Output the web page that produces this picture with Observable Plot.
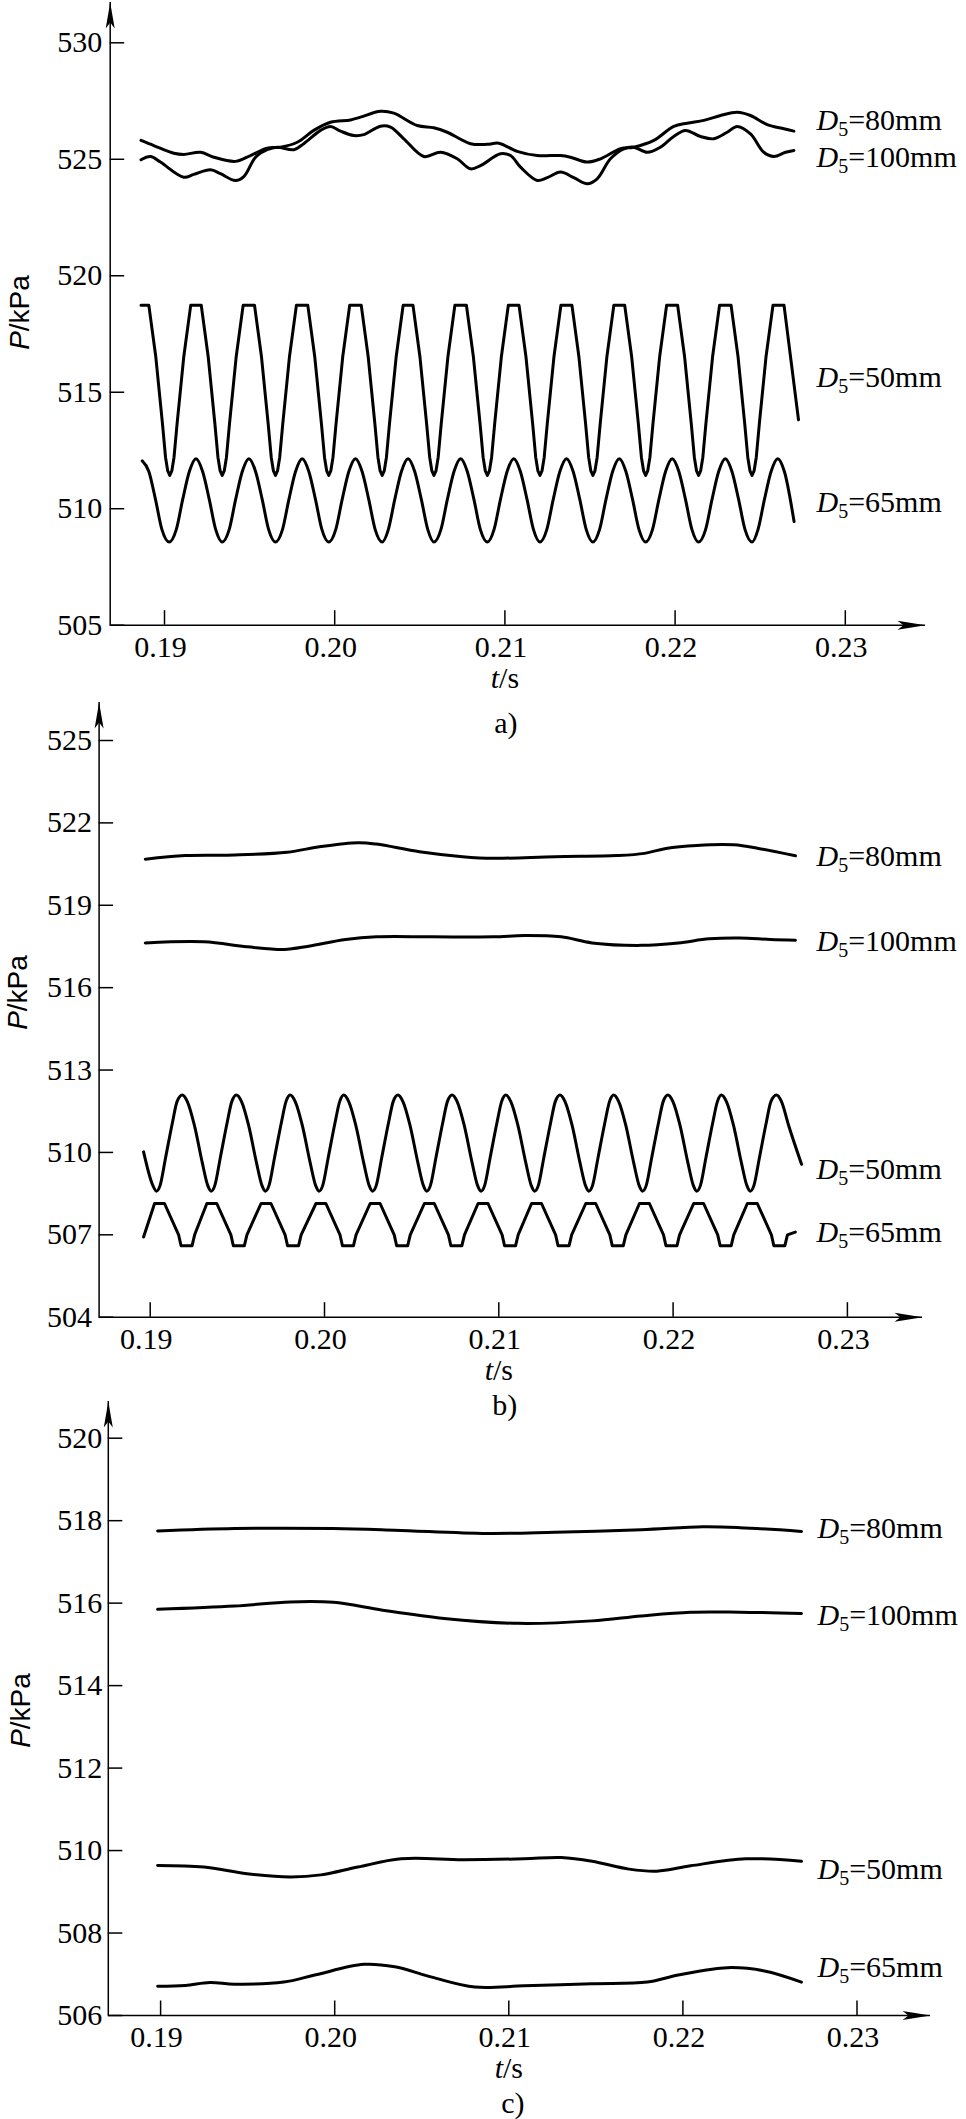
<!DOCTYPE html>
<html>
<head>
<meta charset="utf-8">
<script src="https://cdn.jsdelivr.net/npm/d3@7"></script>
<script src="https://cdn.jsdelivr.net/npm/@observablehq/plot@0.6"></script>
<style>
html, body { margin: 0; padding: 0; background: #fff; }
#root { position: relative; width: 966px; height: 2119px; overflow: hidden; background: #fff; }
.panel { position: absolute; left: 0; }
.panel svg { background: transparent !important; overflow: visible; }
</style>
</head>
<body>
<div id="root"></div>
<script>
// ---------------- DATA ----------------
const xTicks = [0.19, 0.20, 0.21, 0.22, 0.23];
const xTickLabels = ["0.19", "0.20", "0.21", "0.22", "0.23"];
const seriesNames = ["D5=80mm", "D5=100mm", "D5=50mm", "D5=65mm"];

// panel a)
const aTicksP = [505, 510, 515, 520, 525, 530];
const aLabelP = [526.67, 525.08, 515.64, 510.27];
const aD80 = [[0.18862,525.81],[0.18937,525.59],[0.19055,525.26],[0.19113,525.21],[0.19212,525.30],[0.19290,525.09],[0.19417,524.91],[0.19505,525.16],[0.19603,525.48],[0.19682,525.52],[0.19780,525.73],[0.19877,526.24],[0.19975,526.59],[0.20093,526.69],[0.20152,526.81],[0.20269,527.06],[0.20347,526.98],[0.20485,526.45],[0.20582,526.35],[0.20661,526.16],[0.20798,525.67],[0.20896,525.64],[0.20964,525.69],[0.21072,525.34],[0.21190,525.16],[0.21327,525.16],[0.21385,525.09],[0.21484,524.88],[0.21562,525.02],[0.21679,525.45],[0.21757,525.52],[0.21875,525.81],[0.21992,526.41],[0.22071,526.55],[0.22169,526.67],[0.22267,526.88],[0.22365,527.02],[0.22443,526.88],[0.22541,526.49],[0.22639,526.31],[0.22698,526.21]];
const aD100 = [[0.18862,524.98],[0.18918,525.12],[0.18976,524.88],[0.19113,524.23],[0.19172,524.35],[0.19270,524.55],[0.19329,524.38],[0.19417,524.09],[0.19466,524.26],[0.19535,525.09],[0.19603,525.41],[0.19662,525.52],[0.19760,525.41],[0.19818,525.67],[0.19917,526.24],[0.19975,526.41],[0.20034,526.21],[0.20112,526.02],[0.20171,526.06],[0.20269,526.42],[0.20328,526.38],[0.20406,525.88],[0.20524,525.12],[0.20622,525.30],[0.20720,525.02],[0.20798,524.59],[0.20857,524.73],[0.20974,525.24],[0.21033,525.16],[0.21092,524.66],[0.21190,524.09],[0.21249,524.21],[0.21327,524.45],[0.21405,524.21],[0.21484,523.95],[0.21542,524.16],[0.21620,525.02],[0.21699,525.45],[0.21757,525.52],[0.21836,525.30],[0.21914,525.52],[0.21992,525.98],[0.22061,526.24],[0.22149,525.98],[0.22227,525.88],[0.22306,526.16],[0.22365,526.41],[0.22443,526.09],[0.22521,525.30],[0.22580,525.12],[0.22649,525.30],[0.22698,525.38]];
const aD50 = [[0.18862,518.73],
[0.18908,518.73],[0.18949,516.51],[0.18988,513.65],[0.19006,512.21],[0.19019,511.62],[0.19031,511.43],[0.19043,511.62],[0.19056,512.21],[0.19074,513.65],[0.19113,516.51],[0.19154,518.73],
[0.19216,518.73],[0.19257,516.51],[0.19296,513.65],[0.19314,512.21],[0.19327,511.62],[0.19339,511.43],[0.19351,511.62],[0.19364,512.21],[0.19382,513.65],[0.19421,516.51],[0.19462,518.73],
[0.19529,518.73],[0.19570,516.51],[0.19609,513.65],[0.19627,512.21],[0.19640,511.62],[0.19652,511.43],[0.19664,511.62],[0.19677,512.21],[0.19695,513.65],[0.19734,516.51],[0.19775,518.73],
[0.19842,518.73],[0.19883,516.51],[0.19922,513.65],[0.19940,512.21],[0.19953,511.62],[0.19965,511.43],[0.19977,511.62],[0.19990,512.21],[0.20008,513.65],[0.20047,516.51],[0.20088,518.73],
[0.20156,518.73],[0.20197,516.51],[0.20236,513.65],[0.20254,512.21],[0.20267,511.62],[0.20279,511.43],[0.20291,511.62],[0.20304,512.21],[0.20322,513.65],[0.20361,516.51],[0.20402,518.73],
[0.20460,518.73],[0.20501,516.51],[0.20540,513.65],[0.20558,512.21],[0.20571,511.62],[0.20583,511.43],[0.20595,511.62],[0.20608,512.21],[0.20626,513.65],[0.20665,516.51],[0.20706,518.73],
[0.20774,518.73],[0.20815,516.51],[0.20854,513.65],[0.20872,512.21],[0.20885,511.62],[0.20897,511.43],[0.20909,511.62],[0.20922,512.21],[0.20940,513.65],[0.20979,516.51],[0.21020,518.73],
[0.21083,518.73],[0.21124,516.51],[0.21163,513.65],[0.21181,512.21],[0.21194,511.62],[0.21206,511.43],[0.21218,511.62],[0.21231,512.21],[0.21249,513.65],[0.21288,516.51],[0.21329,518.73],
[0.21394,518.73],[0.21435,516.51],[0.21474,513.65],[0.21492,512.21],[0.21505,511.62],[0.21517,511.43],[0.21529,511.62],[0.21542,512.21],[0.21560,513.65],[0.21599,516.51],[0.21640,518.73],
[0.21704,518.73],[0.21745,516.51],[0.21784,513.65],[0.21802,512.21],[0.21815,511.62],[0.21827,511.43],[0.21839,511.62],[0.21852,512.21],[0.21870,513.65],[0.21909,516.51],[0.21950,518.73],
[0.22015,518.73],[0.22056,516.51],[0.22095,513.65],[0.22113,512.21],[0.22126,511.62],[0.22138,511.43],[0.22150,511.62],[0.22163,512.21],[0.22181,513.65],[0.22220,516.51],[0.22261,518.73],
[0.22329,518.73],[0.22370,516.51],[0.22409,513.65],[0.22427,512.21],[0.22440,511.62],[0.22452,511.43],[0.22464,511.62],[0.22477,512.21],[0.22495,513.65],[0.22534,516.51],[0.22575,518.73],
[0.22640,518.73],[0.22725,513.82]];
const aD65 = [[0.18869,512.05],[0.18908,511.6],[0.18947,510.4],[0.18985,509.1],[0.19028,508.57],
[0.19069,509.1],[0.19107,510.4],[0.19146,511.6],[0.19185,512.15],[0.19224,511.6],[0.19263,510.4],[0.19301,509.1],[0.19339,508.57],
[0.19380,509.1],[0.19418,510.4],[0.19457,511.6],[0.19496,512.15],[0.19535,511.6],[0.19574,510.4],[0.19612,509.1],[0.19652,508.57],
[0.19693,509.1],[0.19731,510.4],[0.19770,511.6],[0.19809,512.15],[0.19848,511.6],[0.19887,510.4],[0.19925,509.1],[0.19965,508.57],
[0.20006,509.1],[0.20044,510.4],[0.20083,511.6],[0.20122,512.15],[0.20161,511.6],[0.20200,510.4],[0.20238,509.1],[0.20279,508.57],
[0.20315,509.1],[0.20353,510.4],[0.20392,511.6],[0.20431,512.15],[0.20470,511.6],[0.20509,510.4],[0.20547,509.1],[0.20583,508.57],
[0.20624,509.1],[0.20662,510.4],[0.20701,511.6],[0.20740,512.15],[0.20779,511.6],[0.20818,510.4],[0.20856,509.1],[0.20897,508.57],
[0.20936,509.1],[0.20974,510.4],[0.21013,511.6],[0.21052,512.15],[0.21091,511.6],[0.21130,510.4],[0.21168,509.1],[0.21206,508.57],
[0.21246,509.1],[0.21284,510.4],[0.21323,511.6],[0.21362,512.15],[0.21401,511.6],[0.21440,510.4],[0.21478,509.1],[0.21517,508.57],
[0.21556,509.1],[0.21594,510.4],[0.21633,511.6],[0.21672,512.15],[0.21711,511.6],[0.21750,510.4],[0.21788,509.1],[0.21827,508.57],
[0.21867,509.1],[0.21905,510.4],[0.21944,511.6],[0.21983,512.15],[0.22022,511.6],[0.22061,510.4],[0.22099,509.1],[0.22138,508.57],
[0.22179,509.1],[0.22217,510.4],[0.22256,511.6],[0.22295,512.15],[0.22334,511.6],[0.22373,510.4],[0.22411,509.1],[0.22452,508.57],
[0.22487,509.1],[0.22525,510.4],[0.22564,511.6],[0.22603,512.15],[0.22642,511.6],[0.22699,509.45]];

// panel b)
const bTicksP = [504, 507, 510, 513, 516, 519, 522, 525];
const bLabelP = [520.78, 517.68, 509.37, 507.09];
const bD80 = [[0.18972,520.68],[0.19202,520.81],[0.19485,520.83],[0.19785,520.93],[0.19979,521.14],[0.20192,521.28],[0.20298,521.23],[0.20545,520.95],[0.20792,520.77],[0.20969,520.71],[0.21323,520.77],[0.21676,520.81],[0.21836,520.89],[0.21959,521.07],[0.22136,521.18],[0.22348,521.20],[0.22490,521.07],[0.22702,520.80]];
const bD100 = [[0.18972,517.63],[0.19308,517.67],[0.19556,517.49],[0.19768,517.39],[0.19909,517.51],[0.20121,517.75],[0.20298,517.85],[0.20616,517.85],[0.20969,517.85],[0.21146,517.90],[0.21358,517.85],[0.21535,517.63],[0.21818,517.54],[0.22030,517.63],[0.22207,517.78],[0.22384,517.81],[0.22560,517.75],[0.22702,517.73]];
const bD50 = [[0.18962,510.02],[0.19015,508.8],[0.19036,508.59],[0.19057,508.8],[0.19088,509.8],[0.19128,511.1],[0.19154,511.85],
[0.19184,512.09],[0.19213,511.85],[0.19253,511.0],[0.19299,509.62],[0.19330,508.8],[0.19350,508.59],[0.19371,508.8],[0.19402,509.8],[0.19442,511.1],[0.19468,511.85],
[0.19495,512.09],[0.19524,511.85],[0.19564,511.0],[0.19610,509.62],[0.19641,508.8],[0.19661,508.59],[0.19682,508.8],[0.19713,509.8],[0.19753,511.1],[0.19779,511.85],
[0.19803,512.09],[0.19832,511.85],[0.19872,511.0],[0.19918,509.62],[0.19949,508.8],[0.19969,508.59],[0.19990,508.8],[0.20021,509.8],[0.20061,511.1],[0.20087,511.85],
[0.20110,512.09],[0.20139,511.85],[0.20179,511.0],[0.20225,509.62],[0.20256,508.8],[0.20276,508.59],[0.20297,508.8],[0.20328,509.8],[0.20368,511.1],[0.20394,511.85],
[0.20421,512.09],[0.20450,511.85],[0.20490,511.0],[0.20536,509.62],[0.20567,508.8],[0.20587,508.59],[0.20608,508.8],[0.20639,509.8],[0.20679,511.1],[0.20705,511.85],
[0.20732,512.09],[0.20761,511.85],[0.20801,511.0],[0.20847,509.62],[0.20878,508.8],[0.20898,508.59],[0.20919,508.8],[0.20950,509.8],[0.20990,511.1],[0.21016,511.85],
[0.21040,512.09],[0.21069,511.85],[0.21109,511.0],[0.21155,509.62],[0.21186,508.8],[0.21206,508.59],[0.21227,508.8],[0.21258,509.8],[0.21298,511.1],[0.21324,511.85],
[0.21351,512.09],[0.21380,511.85],[0.21420,511.0],[0.21466,509.62],[0.21497,508.8],[0.21517,508.59],[0.21538,508.8],[0.21569,509.8],[0.21609,511.1],[0.21635,511.85],
[0.21659,512.09],[0.21688,511.85],[0.21728,511.0],[0.21774,509.62],[0.21805,508.8],[0.21825,508.59],[0.21846,508.8],[0.21877,509.8],[0.21917,511.1],[0.21943,511.85],
[0.21970,512.09],[0.21999,511.85],[0.22039,511.0],[0.22085,509.62],[0.22116,508.8],[0.22136,508.59],[0.22157,508.8],[0.22188,509.8],[0.22228,511.1],[0.22254,511.85],
[0.22277,512.09],[0.22306,511.85],[0.22346,511.0],[0.22392,509.62],[0.22423,508.8],[0.22443,508.59],[0.22464,508.8],[0.22495,509.8],[0.22535,511.1],[0.22561,511.85],
[0.22593,512.09],[0.22622,511.85],[0.22662,511.0],[0.22737,509.57]];
const bD65 = [[0.18962,506.92],
[0.19025,508.14],[0.19082,508.14],[0.19163,507.00],[0.19177,506.60],[0.19240,506.60],[0.19255,507.00],
[0.19325,508.14],[0.19382,508.14],[0.19463,507.00],[0.19477,506.60],[0.19540,506.60],[0.19555,507.00],
[0.19636,508.14],[0.19693,508.14],[0.19774,507.00],[0.19788,506.60],[0.19851,506.60],[0.19866,507.00],
[0.19951,508.14],[0.20008,508.14],[0.20089,507.00],[0.20103,506.60],[0.20166,506.60],[0.20181,507.00],
[0.20262,508.14],[0.20319,508.14],[0.20400,507.00],[0.20414,506.60],[0.20477,506.60],[0.20492,507.00],
[0.20573,508.14],[0.20630,508.14],[0.20711,507.00],[0.20725,506.60],[0.20788,506.60],[0.20803,507.00],
[0.20881,508.14],[0.20938,508.14],[0.21019,507.00],[0.21033,506.60],[0.21096,506.60],[0.21111,507.00],
[0.21188,508.14],[0.21245,508.14],[0.21326,507.00],[0.21340,506.60],[0.21403,506.60],[0.21418,507.00],
[0.21499,508.14],[0.21556,508.14],[0.21637,507.00],[0.21651,506.60],[0.21714,506.60],[0.21729,507.00],
[0.21807,508.14],[0.21864,508.14],[0.21945,507.00],[0.21959,506.60],[0.22022,506.60],[0.22037,507.00],
[0.22118,508.14],[0.22175,508.14],[0.22256,507.00],[0.22270,506.60],[0.22333,506.60],[0.22348,507.00],
[0.22426,508.14],[0.22483,508.14],[0.22564,507.00],[0.22578,506.60],[0.22641,506.60],[0.22656,507.00],
[0.22701,507.10]];

// panel c)
const cTicksP = [506, 508, 510, 512, 514, 516, 518, 520];
const cLabelP = [517.81, 515.70, 509.54, 507.17];
const cD80 = [[0.18983,517.75],[0.19425,517.81],[0.19992,517.81],[0.20345,517.77],[0.20876,517.69],[0.21265,517.72],[0.21761,517.78],[0.22115,517.85],[0.22327,517.83],[0.22681,517.74]];
const cD100 = [[0.18983,515.85],[0.19425,515.93],[0.19744,516.03],[0.19992,516.02],[0.20275,515.83],[0.20628,515.63],[0.21053,515.51],[0.21478,515.57],[0.21761,515.69],[0.22044,515.78],[0.22327,515.78],[0.22681,515.75]];
const cD50 = [[0.18983,509.64],[0.19248,509.60],[0.19496,509.44],[0.19744,509.36],[0.19921,509.41],[0.20133,509.60],[0.20381,509.80],[0.20735,509.78],[0.21088,509.80],[0.21301,509.83],[0.21478,509.74],[0.21691,509.55],[0.21850,509.50],[0.22044,509.63],[0.22362,509.80],[0.22681,509.74]];
const cD65 = [[0.18983,506.71],[0.19142,506.73],[0.19283,506.80],[0.19425,506.76],[0.19708,506.81],[0.19885,506.98],[0.20168,507.24],[0.20345,507.18],[0.20558,506.93],[0.20805,506.69],[0.21088,506.72],[0.21478,506.77],[0.21796,506.81],[0.21973,506.98],[0.22256,507.16],[0.22468,507.08],[0.22681,506.81]];

// ---------------- LAYOUT (page pixels) ----------------
const layout = [
  { caption: "a)", top: 0, height: 745, x019: 164, x023: 844.8, yTopPx: 42.3, yBotPx: 624.7,
    yDomain: [505, 530], ticks: aTicksP, labelP: aLabelP, series: [aD80, aD100, aD50, aD65],
    curves: ["catmull-rom", "catmull-rom", "linear", "monotone-x"],
    axisPx: 109.7, xTipPx: 925, yTipPx: 2, titleCy: 312, titleCx: 20, labelPx: 816, capDx: 1, capDy: 98, tickDx: -8 },
  { caption: "b)", top: 690, height: 735, x019: 149.7, x023: 846.9, yTopPx: 740, yBotPx: 1316.7,
    yDomain: [504, 525], ticks: bTicksP, labelP: bLabelP, series: [bD80, bD100, bD50, bD65],
    curves: ["catmull-rom", "catmull-rom", "monotone-x", "linear"],
    axisPx: 98.6, xTipPx: 922, yTipPx: 702, titleCy: 992, titleCx: 18, labelPx: 816, capDx: 6, capDy: 88, tickDx: -7 },
  { caption: "c)", top: 1395, height: 724, x019: 160.1, x023: 856.5, yTopPx: 1437.7, yBotPx: 2015,
    yDomain: [506, 520], ticks: cTicksP, labelP: cLabelP, series: [cD80, cD100, cD50, cD65],
    curves: ["catmull-rom", "catmull-rom", "catmull-rom", "catmull-rom"],
    axisPx: 107.8, xTipPx: 930, yTipPx: 1401, titleCy: 1710, titleCx: 21, labelPx: 817, capDx: 4, capDy: 88, tickDx: -6 }
];

const SERIF = "'Liberation Serif', 'Times New Roman', Times, serif";
const SANS = "'Liberation Sans', Arial, Helvetica, sans-serif";
const FS = 30;
const arrowUp = { draw(ctx) { ctx.moveTo(0, 0); ctx.lineTo(4.5, 26); ctx.lineTo(0, 20); ctx.lineTo(-4.5, 26); ctx.closePath(); } };
const arrowRight = { draw(ctx) { ctx.moveTo(0, 0); ctx.lineTo(-28, -4.5); ctx.lineTo(-22, 0); ctx.lineTo(-28, 4.5); ctx.closePath(); } };

function richify(svg) {
  const NS = "http://www.w3.org/2000/svg";
  svg.querySelectorAll("text").forEach(t => {
    const s = t.textContent;
    let parts = null;
    const m = s.match(/^D5=(.*)$/);
    if (m) parts = [["D", {"font-style": "italic"}], ["5", {"font-size": "20px", dy: "6"}], ["=" + m[1], {dy: "-6"}]];
    else if (s === "P/kPa") parts = [["P", {"font-style": "italic"}], ["/kPa", {}]];
    else if (s === "t/s") parts = [["t", {"font-style": "italic"}], ["/s", {}]];
    if (!parts) return;
    while (t.firstChild) t.removeChild(t.firstChild);
    for (const [txt, attrs] of parts) {
      const ts = document.createElementNS(NS, "tspan");
      for (const k in attrs) ts.setAttribute(k, attrs[k]);
      ts.textContent = txt;
      t.appendChild(ts);
    }
  });
}

const root = document.getElementById("root");
for (const L of layout) {
  const pxPerT = (L.x023 - L.x019) / (xTicks[4] - xTicks[0]);
  const pxPerP = (L.yBotPx - L.yTopPx) / (L.yDomain[1] - L.yDomain[0]);
  const toT = px => xTicks[0] + (px - L.x019) / pxPerT;
  const toP = py => L.yDomain[1] - (py - L.yTopPx) / pxPerP;
  const axisT = toT(L.axisPx), tipT = toT(L.xTipPx), tipP = toP(L.yTipPx);
  const yMin = L.yDomain[0];
  const tickT = 14.5 / pxPerT, tickP = 14.5 / pxPerP;
  const labelT = toT(L.labelPx);
  const titleP = toP(L.titleCy);
  const labels = seriesNames.map((n, i) => ({text: n, p: L.labelP[i]}));
  const txt = {fontSize: FS, fontFamily: SERIF, fill: "#000"};

  const marks = [
    Plot.ruleX([axisT], {x: d => d, y1: yMin, y2: tipP, stroke: "#000", strokeWidth: 1.5}),
    Plot.ruleY([yMin], {y: d => d, x1: axisT, x2: tipT, stroke: "#000", strokeWidth: 1.5}),
    Plot.dot([0], {x: axisT, y: tipP, symbol: arrowUp, fill: "#000", stroke: "none"}),
    Plot.dot([0], {x: tipT, y: yMin, symbol: arrowRight, fill: "#000", stroke: "none"}),
    Plot.ruleY(L.ticks, {y: d => d, x1: axisT, x2: axisT + tickT, stroke: "#000", strokeWidth: 1.5}),
    Plot.ruleX(xTicks, {x: d => d, y1: yMin, y2: yMin + tickP, stroke: "#000", strokeWidth: 1.5}),
    Plot.text(L.ticks, {x: axisT, y: d => d, text: d => String(d), textAnchor: "end", dx: L.tickDx, ...txt}),
    Plot.text(xTicks, {x: d => d, y: yMin, text: (d, i) => xTickLabels[i], dy: 22, dx: -4, ...txt}),
    Plot.text(["t/s"], {x: 0.21, y: yMin, text: d => d, dy: 53, ...txt}),
    Plot.text([L.caption], {x: 0.21, y: yMin, text: d => d, dy: L.capDy, dx: L.capDx, ...txt}),
    Plot.text(["P/kPa"], {x: axisT, y: titleP, text: d => d, rotate: -90, dx: L.titleCx - L.axisPx, fontSize: 28, fontFamily: SANS, fill: "#000"}),
    ...L.series.map((s, i) => Plot.line(s, {x: d => d[0], y: d => d[1], curve: L.curves[i], stroke: "#000", strokeWidth: 3, strokeLinejoin: "round", strokeLinecap: "round"})),
    Plot.text(labels, {x: labelT, y: d => d.p, text: d => d.text, textAnchor: "start", ...txt})
  ];

  const svg = Plot.plot({
    width: 966,
    height: L.height,
    marginLeft: L.x019,
    marginRight: 966 - L.x023,
    marginTop: L.yTopPx - L.top,
    marginBottom: L.top + L.height - L.yBotPx,
    x: {type: "linear", domain: [xTicks[0], xTicks[4]], axis: null},
    y: {type: "linear", domain: L.yDomain, axis: null},
    style: "font-family: 'Liberation Serif', 'Times New Roman', serif; font-size: 30px; background: transparent; color: #000; overflow: visible;",
    marks
  });
  richify(svg);
  const div = document.createElement("div");
  div.className = "panel";
  div.style.top = L.top + "px";
  div.appendChild(svg);
  root.appendChild(div);
}
</script>
</body>
</html>
